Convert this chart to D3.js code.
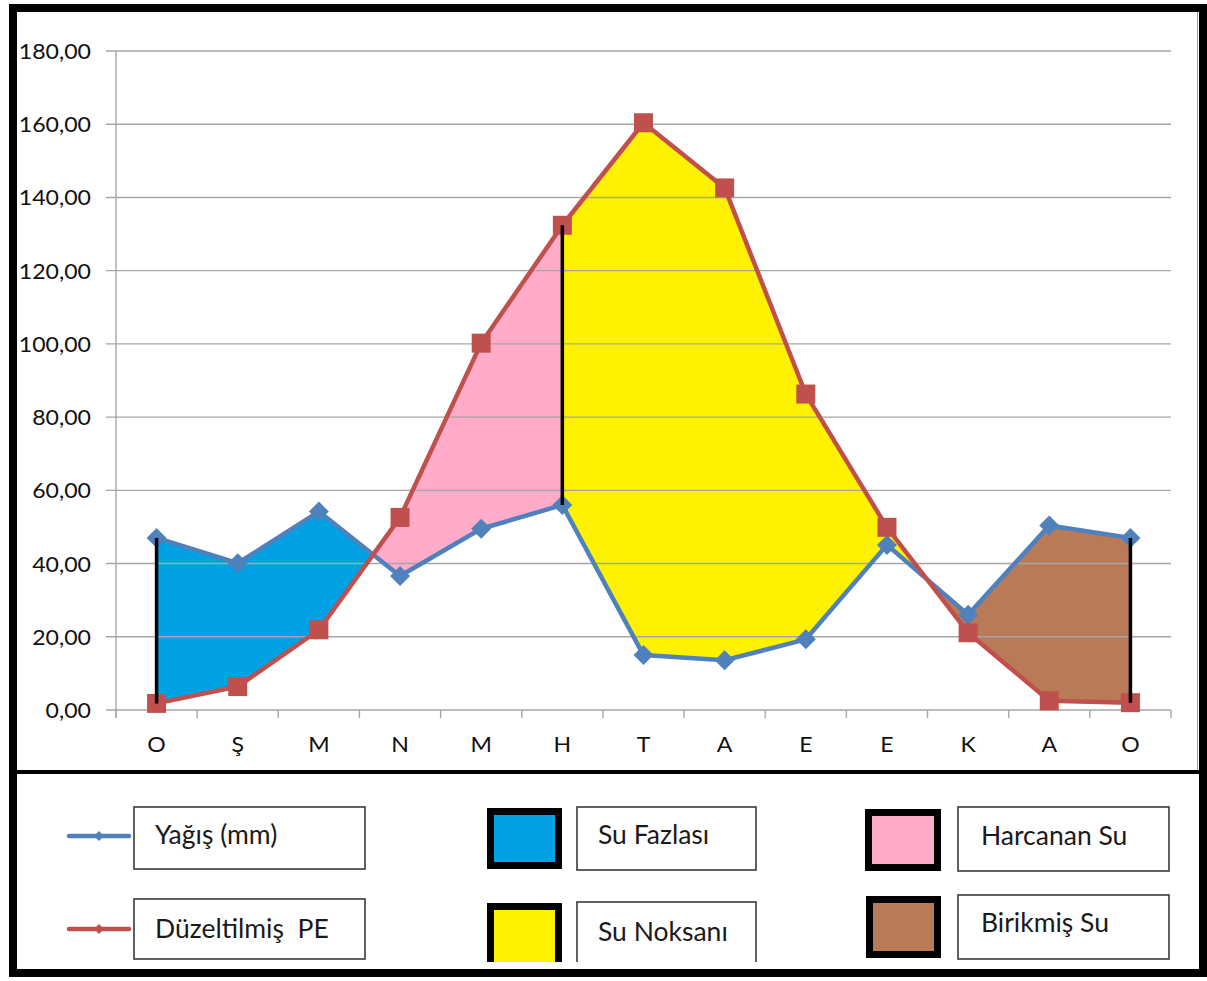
<!DOCTYPE html>
<html>
<head>
<meta charset="utf-8">
<script src="https://cdn.jsdelivr.net/npm/d3@7"></script>
<style>
  html, body { margin: 0; padding: 0; background: #fff; }
  svg { display: block; font-family: Lato, "Open Sans", sans-serif; }
</style>
</head>
<body>
<svg id="chart" width="1207" height="981"></svg>
<script>
// ---- data ----
const months = ["O", "Ş", "M", "N", "M", "H", "T", "A", "E", "E", "K", "A", "O"];
const yagis = [47.0, 40.1, 54.2, 36.6, 49.5, 56.0, 15.0, 13.6, 19.3, 45.1, 26.0, 50.4, 47.0];
const duzeltilmisPE = [1.8, 6.4, 21.9, 52.6, 100.2, 132.4, 160.4, 142.6, 86.3, 49.9, 21.1, 2.5, 2.0];
const yTicks = [0, 20, 40, 60, 80, 100, 120, 140, 160, 180];
const dividers = [0, 5, 12];
const regionNames = ["Su Fazlası", "Harcanan Su", "Su Noksanı", "Birikmiş Su"];
const regionColors = ["#00A2E3", "#FFABC9", "#FFF200", "#B97A57"];
const seriesNames = ["Yağış (mm)", "Düzeltilmiş  PE"];
const seriesColors = ["#4F81BD", "#C0504D"];

// ---- layout ----
const svg = d3.select("#chart");
const plotL = 116, plotR = 1171, plotT = 51, plotB = 710;

const xBand = d3.scaleBand().domain(d3.range(months.length)).range([plotL, plotR]).padding(0);
const xf = d3.scaleLinear().domain([-0.5, months.length - 0.5]).range([plotL, plotR]);
const y = d3.scaleLinear().domain([0, 180]).range([plotB, plotT]);
const fmt = v => d3.format(".2f")(v).replace(".", ",");

// interpolation helpers
const valAt = (arr, f) => {
  const i = Math.min(Math.floor(f), arr.length - 2);
  const t = f - i;
  return arr[i] + (arr[i + 1] - arr[i]) * t;
};
const crossing = i => {
  const d0 = yagis[i] - duzeltilmisPE[i];
  const d1 = yagis[i + 1] - duzeltilmisPE[i + 1];
  return i + d0 / (d0 - d1);
};
const regions = [
  { from: 0, to: crossing(2) },
  { from: crossing(2), to: 5 },
  { from: 5, to: crossing(9) },
  { from: crossing(9), to: 12 }
];
regions.forEach((r, k) => { r.color = regionColors[k]; });

function regionPoints(r) {
  const fs = [r.from];
  for (let i = Math.ceil(r.from + 1e-9); i < r.to - 1e-9; i++) if (i > r.from) fs.push(i);
  fs.push(r.to);
  const top = fs.map(f => [xf(f), y(valAt(yagis, f))]);
  const bot = fs.slice().reverse().map(f => [xf(f), y(valAt(duzeltilmisPE, f))]);
  return top.concat(bot);
}

// ---- fills ----
svg.append("g").selectAll("path").data(regions).join("path")
  .attr("d", r => d3.line()(regionPoints(r)) + "Z")
  .attr("fill", r => r.color)
  .attr("stroke", "none");

// ---- gridlines ----
svg.append("g").selectAll("line").data(yTicks).join("line")
  .attr("x1", plotL - 10).attr("x2", plotR)
  .attr("y1", d => y(d)).attr("y2", d => y(d))
  .attr("stroke", "#A6A6A6").attr("stroke-width", 1.4);

// y axis line
svg.append("line").attr("x1", plotL).attr("x2", plotL).attr("y1", plotT).attr("y2", plotB + 8)
  .attr("stroke", "#A6A6A6").attr("stroke-width", 1.4);

// x ticks at band boundaries
const bounds = d3.range(months.length + 1).map(i => plotL + i * xBand.bandwidth());
svg.append("g").selectAll("line").data(bounds).join("line")
  .attr("x1", d => d).attr("x2", d => d).attr("y1", plotB).attr("y2", plotB + 8)
  .attr("stroke", "#A6A6A6").attr("stroke-width", 1.4);

// y labels
svg.append("g").selectAll("text").data(yTicks).join("text")
  .attr("transform", d => `translate(91,${y(d) + 8}) scale(1.1,1)`)
  .attr("text-anchor", "end")
  .attr("font-size", 21).attr("fill", "#111")
  .text(d => fmt(d));

// x labels
svg.append("g").selectAll("text").data(months).join("text")
  .attr("transform", (d, i) => `translate(${xBand(i) + xBand.bandwidth() / 2},752) scale(1.1,1)`)
  .attr("text-anchor", "middle")
  .attr("font-size", 21).attr("fill", "#111")
  .text(d => d);

// ---- lines ----
const cx = i => xBand(i) + xBand.bandwidth() / 2;
const lineGen = d3.line().x((d, i) => cx(i)).y(d => y(d));
svg.append("path").attr("d", lineGen(yagis)).attr("fill", "none")
  .attr("stroke", seriesColors[0]).attr("stroke-width", 4.5).attr("stroke-linejoin", "round");
svg.append("path").attr("d", lineGen(duzeltilmisPE)).attr("fill", "none")
  .attr("stroke", seriesColors[1]).attr("stroke-width", 4.5).attr("stroke-linejoin", "round");

// markers
svg.append("g").selectAll("path").data(yagis).join("path")
  .attr("d", (d, i) => { const X = cx(i), Y = y(d), r = 10; return `M${X},${Y - r}L${X + r},${Y}L${X},${Y + r}L${X - r},${Y}Z`; })
  .attr("fill", seriesColors[0]);
svg.append("g").selectAll("rect").data(duzeltilmisPE).join("rect")
  .attr("x", (d, i) => cx(i) - 9.5).attr("y", d => y(d) - 9.5)
  .attr("width", 19).attr("height", 19)
  .attr("fill", seriesColors[1]);

// black divider lines
svg.append("g").selectAll("line").data(dividers).join("line")
  .attr("x1", i => cx(i)).attr("x2", i => cx(i))
  .attr("y1", i => y(Math.max(yagis[i], duzeltilmisPE[i])))
  .attr("y2", i => y(Math.min(yagis[i], duzeltilmisPE[i])))
  .attr("stroke", "#000").attr("stroke-width", 3.5);

// ---- legend ----
const defs = svg.append("defs");
defs.append("clipPath").attr("id", "legclip").append("rect")
  .attr("x", 0).attr("y", 774).attr("width", 1207).attr("height", 188);
const leg = svg.append("g").attr("clip-path", "url(#legclip)");

// series legend
const serLeg = [
  { name: seriesNames[0], color: seriesColors[0], ly: 836, box: [134, 807, 231, 62], ty: 844 },
  { name: seriesNames[1], color: seriesColors[1], ly: 929, box: [134, 899, 231, 60], ty: 938 }
];
serLeg.forEach(s => {
  leg.append("line").attr("x1", 69).attr("x2", 129).attr("y1", s.ly).attr("y2", s.ly)
    .attr("stroke", s.color).attr("stroke-width", 4.5).attr("stroke-linecap", "round");
  leg.append("path").attr("d", `M99,${s.ly - 5}L104,${s.ly}L99,${s.ly + 5}L94,${s.ly}Z`).attr("fill", s.color);
  leg.append("rect").attr("x", s.box[0]).attr("y", s.box[1]).attr("width", s.box[2]).attr("height", s.box[3])
    .attr("fill", "#fff").attr("stroke", "#3a3a3a").attr("stroke-width", 1.6);
  leg.append("text").attr("x", 155).attr("y", s.ty).attr("font-size", 26.5).attr("fill", "#1a1a1a")
    .attr("xml:space", "preserve").style("white-space", "pre").text(s.name);
});

// region legend
const regLeg = [
  { k: 0, sw: [487, 808, 75, 61], box: [577, 807, 179, 63], tx: 598, ty: 844 },
  { k: 2, sw: [487, 903, 75, 70], box: [577, 902, 179, 80], tx: 598, ty: 941 },
  { k: 1, sw: [865, 809, 76, 62], box: [958, 807, 211, 64], tx: 981, ty: 845 },
  { k: 3, sw: [866, 896, 75, 62], box: [958, 895, 211, 64], tx: 981, ty: 932 }
];
regLeg.forEach(s => {
  leg.append("rect").attr("x", s.sw[0] + 3.5).attr("y", s.sw[1] + 3.5)
    .attr("width", s.sw[2] - 7).attr("height", s.sw[3] - 7)
    .attr("fill", regionColors[s.k]).attr("stroke", "#000").attr("stroke-width", 7);
  leg.append("rect").attr("x", s.box[0]).attr("y", s.box[1]).attr("width", s.box[2]).attr("height", s.box[3])
    .attr("fill", "#fff").attr("stroke", "#3a3a3a").attr("stroke-width", 1.6);
  leg.append("text").attr("x", s.tx).attr("y", s.ty).attr("font-size", 26.5).attr("fill", "#1a1a1a")
    .text(regionNames[s.k]);
});

// ---- frame ----
svg.append("line").attr("x1", 10).attr("x2", 1207).attr("y1", 772).attr("y2", 772)
  .attr("stroke", "#000").attr("stroke-width", 4);
svg.append("line").attr("x1", 1197.5).attr("x2", 1197.5).attr("y1", 10).attr("y2", 770)
  .attr("stroke", "#9a9a9a").attr("stroke-width", 1);
svg.append("rect").attr("x", 13).attr("y", 8).attr("width", 1190).attr("height", 965)
  .attr("fill", "none").attr("stroke", "#000").attr("stroke-width", 8);
</script>
</body>
</html>
